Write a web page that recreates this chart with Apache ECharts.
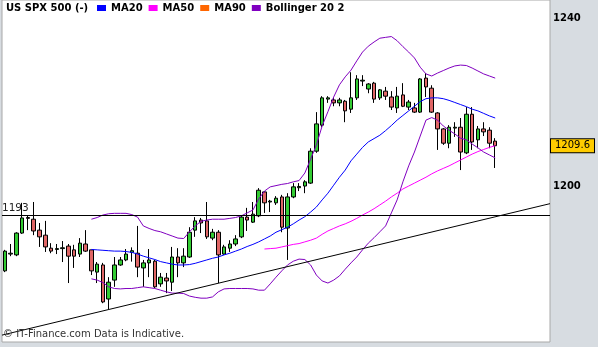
<!DOCTYPE html>
<html>
<head>
<meta charset="utf-8">
<script src="https://cdn.jsdelivr.net/npm/echarts@6/dist/echarts.min.js"></script>
<style>
  html, body { margin: 0; padding: 0; background: #d7dce1; }
  #chart { width: 598px; height: 347px; }
</style>
</head>
<body>
<div id="chart"></div>
<script>
// Daily bars, oldest first
const opens = [1179.8,1183.8,1183.6,1188.8,1192.5,1192.1,1189.5,1188.3,1185.2,1184.9,
  1185.1,1185.7,1184.8,1183.8,1186.2,1184.8,1179.5,1181.2,1173.1,1177.6,
  1181.2,1182.4,1184.2,1184.0,1180.5,1181.7,1182.1,1176.7,1178.1,1177.1,
  1183.1,1181.7,1183.1,1189.5,1191.9,1191.7,1187.6,1189.0,1183.8,1185.2,
  1186.2,1187.9,1192.6,1191.4,1192.9,1198.6,1196.2,1196.0,1197.4,1190.0,
  1197.4,1199.6,1200.0,1200.7,1208.3,1214.5,1220.7,1220.5,1219.8,1220.2,
  1218.3,1221.0,1225.0,1223.1,1224.5,1221.0,1222.6,1221.2,1218.6,1221.7,
  1218.8,1218.6,1217.6,1225.7,1223.3,1217.4,1213.6,1210.2,1213.8,1214.0,
  1207.9,1217.1,1211.0,1213.6,1213.3,1210.7];
const closes = [1184.5,1184.0,1188.8,1192.4,1192.3,1189.3,1187.9,1185.5,1184.5,1185.1,
  1185.3,1183.3,1183.3,1186.4,1184.5,1179.8,1181.4,1172.4,1177.1,1181.2,
  1182.4,1183.8,1184.6,1180.7,1181.7,1182.4,1176.0,1178.3,1177.4,1183.1,
  1181.7,1183.3,1189.0,1191.7,1191.2,1187.9,1189.0,1183.6,1185.5,1186.2,
  1187.4,1192.6,1191.9,1193.3,1199.0,1196.0,1196.4,1197.1,1190.2,1197.4,
  1199.8,1199.9,1201.0,1208.3,1214.8,1221.0,1221.0,1219.8,1220.5,1217.9,
  1221.0,1225.5,1225.2,1224.3,1220.7,1222.9,1221.4,1218.8,1221.4,1219.0,
  1220.0,1217.6,1225.5,1223.6,1217.6,1213.6,1210.2,1214.0,1214.0,1208.1,
  1217.1,1210.5,1213.6,1212.9,1210.2,1209.6];
const lows = [1179.5,1183.3,1183.3,1188.6,1189.5,1188.3,1185.5,1184.3,1184.0,1183.8,
  1181.9,1176.9,1180.5,1183.1,1184.3,1178.8,1176.9,1172.1,1170.7,1176.0,
  1181.0,1182.1,1182.0,1178.3,1176.0,1178.3,1175.7,1176.0,1174.5,1175.0,
  1178.3,1180.7,1182.9,1187.9,1188.8,1187.4,1187.1,1176.9,1183.6,1184.3,
  1185.7,1187.6,1189.3,1191.2,1192.6,1193.6,1193.8,1195.5,1189.0,1182.4,
  1197.1,1198.8,1198.3,1200.5,1207.9,1214.0,1219.8,1219.0,1219.0,1215.2,
  1217.4,1220.5,1223.8,1222.1,1219.8,1220.5,1220.5,1218.1,1217.4,1218.8,
  1218.1,1217.4,1217.4,1221.2,1217.4,1208.6,1209.8,1209.0,1211.7,1203.8,
  1207.6,1208.6,1209.0,1211.9,1209.0,1204.3];
const highs = [1184.8,1186.2,1189.0,1196.0,1192.9,1196.2,1191.2,1191.7,1186.4,1186.2,
  1186.9,1186.2,1186.0,1187.6,1189.5,1184.8,1181.9,1181.7,1178.3,1183.1,
  1183.1,1185.0,1185.4,1190.5,1182.4,1185.0,1182.4,1179.3,1179.3,1185.5,
  1185.2,1185.2,1190.2,1192.6,1192.4,1196.2,1189.8,1189.5,1186.0,1187.1,
  1188.3,1192.9,1194.8,1196.2,1199.5,1198.8,1196.7,1197.6,1197.9,1198.3,
  1200.7,1200.7,1201.4,1209.0,1217.6,1221.4,1221.4,1221.0,1221.0,1220.5,
  1227.1,1226.4,1226.4,1224.5,1224.8,1223.1,1223.6,1222.6,1223.6,1224.5,
  1220.5,1219.8,1225.7,1226.9,1224.0,1217.6,1213.8,1214.5,1215.2,1216.2,
  1218.8,1218.8,1214.3,1215.2,1214.0,1211.4];

// Indicator values, each beginning at the bar index given by its *Start
const ma20Start = 15;
const ma20 = [1184.9,1184.8,1184.7,1184.6,1184.5,1184.5,1184.4,1184.2,1183.8,1183.3,
  1182.9,1182.5,1182.0,1181.7,1181.4,1181.2,1181.2,1181.3,1181.6,1182.0,
  1182.4,1182.8,1183.1,1183.6,1184.0,1184.5,1185.0,1185.6,1186.1,1186.7,
  1187.4,1188.1,1189.0,1189.6,1190.2,1191.0,1191.9,1192.7,1193.8,1195.0,
  1196.7,1198.3,1200.2,1202.1,1203.8,1206.0,1207.6,1209.2,1210.5,1211.3,
  1212.1,1213.2,1214.4,1215.7,1216.8,1217.9,1219.0,1220.1,1220.8,1221.0,
  1221.0,1220.8,1220.4,1219.9,1219.4,1218.9,1218.3,1217.9,1217.3,1216.7,
  1216.2];
const bollStart = 15;
const bollUpper = [1192.1,1192.5,1193.1,1193.4,1193.5,1193.5,1193.5,1193.2,1192.6,1190.5,
  1189.9,1189.4,1189.1,1188.6,1188.1,1187.6,1187.5,1189.1,1190.5,1191.6,
  1191.9,1192.1,1192.1,1192.1,1192.3,1192.5,1192.9,1193.6,1194.3,1196.9,
  1198.8,1199.8,1200.1,1200.4,1200.6,1201.0,1201.3,1203.1,1206.4,1209.8,
  1214.3,1217.7,1221.2,1224.1,1226.0,1227.6,1229.8,1231.9,1233.3,1234.3,
  1235.2,1235.4,1235.6,1234.6,1233.2,1231.9,1230.5,1228.3,1226.7,1226.2,
  1226.9,1227.5,1228.1,1228.6,1228.8,1228.7,1228.1,1227.4,1226.7,1226.2,
  1225.7];
const bollLower = [1177.9,1177.6,1177.0,1176.0,1175.6,1175.5,1175.6,1175.6,1175.8,1176.0,
  1175.8,1175.6,1175.2,1174.8,1174.5,1174.5,1174.4,1173.8,1173.5,1173.3,
  1173.3,1173.6,1174.8,1175.5,1175.6,1175.6,1175.6,1175.6,1175.5,1175.2,
  1175.2,1176.7,1178.3,1179.8,1181.2,1182.1,1182.6,1182.5,1181.2,1178.8,
  1177.4,1176.9,1177.6,1178.6,1180.2,1181.7,1183.1,1184.8,1186.4,1187.7,
  1189.1,1190.5,1193.6,1196.7,1201.0,1204.8,1208.1,1211.9,1215.7,1216.3,
  1215.7,1214.3,1213.3,1212.4,1211.4,1211.0,1210.0,1209.1,1208.1,1207.4,
  1206.7];
const ma50Start = 45;
const ma50 = [1185.0,1185.1,1185.2,1185.5,1185.8,1186.1,1186.3,1186.7,1187.1,1187.6,
  1188.5,1189.3,1189.9,1190.5,1191.0,1191.6,1192.3,1193.1,1193.8,1194.6,
  1195.5,1196.4,1197.4,1198.3,1199.3,1200.0,1200.7,1201.4,1202.1,1202.9,
  1203.6,1204.2,1204.8,1205.5,1206.2,1206.9,1207.6,1208.2,1208.7,1209.2,
  1209.6];
const ma90 = [];

// Drawn levels
const supportLevel = 1193;
const lastPrice = 1209.6;
const trendLine = [[-0.5, 1164.5], [94.5, 1195.8]];   // [bar slot, price]

const yTickValues = [1200, 1240];
const slotCount = 95;   // bars plus empty space on the right
const categories = Array.from({ length: slotCount }, (_, i) => String(i + 1));

const candles = opens.map((o, i) => [o, closes[i], lows[i], highs[i]]);
const pad = (start, arr) => Array(start).fill(null).concat(arr);

const FONT = 'DejaVu Sans';
const chart = echarts.init(document.getElementById('chart'), null, { renderer: 'canvas' });

chart.setOption({
  animation: false,
  backgroundColor: 'transparent',
  title: {
    text: 'US SPX 500 (-)',
    left: 6, top: 3, padding: 0,
    textStyle: { fontFamily: FONT, fontSize: 10, fontWeight: 'bold', color: '#000' }
  },
  legend: {
    left: 97, top: 3, padding: 0,
    icon: 'rect', itemWidth: 9, itemHeight: 6, itemGap: 6,
    selectedMode: false,
    data: ['MA20', 'MA50', 'MA90', 'Bollinger 20 2'],
    textStyle: { fontFamily: FONT, fontSize: 10, fontWeight: 'bold', color: '#000' }
  },
  grid: {
    left: 2, right: 48, top: 0, bottom: 5,
    show: true, backgroundColor: '#ffffff', borderColor: '#a8a8a8', borderWidth: 1
  },
  xAxis: [
    { type: 'category', data: categories, boundaryGap: true, show: false },
    { type: 'value', min: -0.5, max: slotCount - 0.5, show: false }
  ],
  yAxis: {
    type: 'value', position: 'right', scale: true,
    min: 1162.86, max: 1244.3,
    axisLine: { show: false }, axisTick: { show: false }, splitLine: { show: false },
    axisLabel: {
      customValues: yTickValues,
      formatter: (v) => String(v),
      margin: 3,
      fontFamily: FONT, fontSize: 10, fontWeight: 'bold', color: '#000'
    }
  },
  graphic: [{
    type: 'text', left: 3, top: 329, z: 10,
    style: { text: '\u00a9 IT-Finance.com Data is Indicative.', font: '10px "DejaVu Sans"', fill: '#333' }
  }],
  series: [
    {
      name: 'US SPX 500 (-)',
      type: 'candlestick',
      data: candles,
      barWidth: 4,
      z: 2,
      itemStyle: {
        color: '#33cc33', color0: '#e06666',
        borderColor: '#000', borderColor0: '#000', borderWidth: 1
      },
      markLine: {
        silent: true, symbol: 'none',
        data: [
          {
            yAxis: supportLevel,
            lineStyle: { color: '#000', width: 1, type: 'solid' },
            label: {
              show: true, position: 'insideStartTop', distance: [0, 2],
              formatter: String(supportLevel),
              fontFamily: FONT, fontSize: 10.5, color: '#222'
            }
          },
          {
            yAxis: lastPrice,
            lineStyle: { color: 'rgba(0,0,0,0)', width: 1 },
            label: {
              show: true, position: 'end', distance: 1,
              formatter: lastPrice.toFixed(1),
              fontFamily: FONT, fontSize: 10, color: '#000',
              backgroundColor: '#ffcc00', borderColor: '#000', borderWidth: 1,
              padding: [2, 4, 1, 4]
            }
          }
        ]
      }
    },
    {
      name: 'MA20', type: 'line', data: pad(ma20Start, ma20),
      symbol: 'none', z: 3, color: '#0000ff', lineStyle: { width: 1, color: '#0000ff' }
    },
    {
      name: 'MA50', type: 'line', data: pad(ma50Start, ma50),
      symbol: 'none', z: 3, color: '#ff00ff', lineStyle: { width: 1, color: '#ff00ff' }
    },
    {
      name: 'MA90', type: 'line', data: ma90,
      symbol: 'none', z: 3, color: '#ff6600', lineStyle: { width: 1, color: '#ff6600' }
    },
    {
      name: 'Bollinger 20 2', type: 'line', data: pad(bollStart, bollUpper),
      symbol: 'none', z: 3, color: '#8000c0', lineStyle: { width: 1, color: '#8000c0' }
    },
    {
      name: 'Bollinger 20 2', type: 'line', data: pad(bollStart, bollLower),
      symbol: 'none', z: 3, color: '#8000c0', lineStyle: { width: 1, color: '#8000c0' }
    },
    {
      name: 'Trend', type: 'line', xAxisIndex: 1, data: trendLine,
      symbol: 'none', z: 3, lineStyle: { width: 1, color: '#000' }
    }
  ]
});
</script>
</body>
</html>
